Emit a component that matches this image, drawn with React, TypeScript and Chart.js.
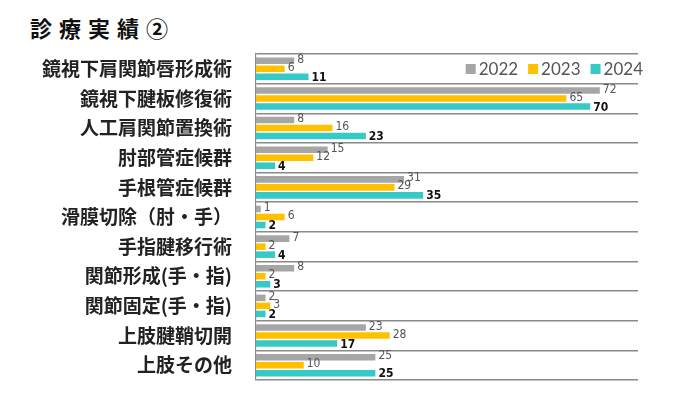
import React, { useEffect, useRef } from "react";
import { Chart, registerables } from "chart.js";

Chart.register(...registerables);

const categories = [
  "鏡視下肩関節唇形成術",
  "鏡視下腱板修復術",
  "人工肩関節置換術",
  "肘部管症候群",
  "手根管症候群",
  "滑膜切除（肘・手）",
  "手指腱移行術",
  "関節形成(手・指)",
  "関節固定(手・指)",
  "上肢腱鞘切開",
  "上肢その他",
];
const years = ["2022", "2023", "2024"];
const values2022 = [8, 72, 8, 15, 31, 1, 7, 8, 2, 23, 25];
const values2023 = [6, 65, 16, 12, 29, 6, 2, 2, 3, 28, 10];
const values2024 = [11, 70, 23, 4, 35, 2, 4, 3, 2, 17, 25];
const colors = ["#a6a6a6", "#ffc000", "#36c9c6"];
const xMax = 80;

const NUM_FONT = '"DejaVu Sans", sans-serif';

const valueLabelPlugin = {
  id: "valueLabels",
  afterDatasetsDraw(chart: any) {
    const ctx = chart.ctx;
    ctx.save();
    try {
      ctx.fontStretch = "condensed";
    } catch (e) {}
    chart.data.datasets.forEach((ds: any, di: number) => {
      const meta = chart.getDatasetMeta(di);
      meta.data.forEach((bar: any, i: number) => {
        const v = ds.data[i];
        const bold = di === 2;
        ctx.font = `${bold ? "bold " : ""}12px ${NUM_FONT}`;
        try {
          ctx.fontStretch = "condensed";
        } catch (e) {}
        ctx.fillStyle = bold ? "#111" : "#555";
        ctx.textAlign = "left";
        ctx.textBaseline = "middle";
        ctx.fillText(String(v), bar.x + 3, bar.y + (bold ? 1 : -1));
      });
    });
    ctx.restore();
  },
};

const legendPlugin = {
  id: "customLegend",
  afterDraw(chart: any) {
    const ctx = chart.ctx;
    ctx.save();
    ctx.font = '17px Lato, "Noto Sans", sans-serif';
    ctx.textBaseline = "middle";
    const box = 10;
    const gapBoxText = 3;
    const gapItems = 10;
    const widths = years.map((y) => ctx.measureText(y).width);
    let total = 0;
    widths.forEach((w, i) => {
      total += box + gapBoxText + w + (i < widths.length - 1 ? gapItems : 0);
    });
    let x = chart.chartArea.right + 5 - total;
    const yc = chart.chartArea.top + 15;
    years.forEach((y, i) => {
      ctx.fillStyle = colors[i];
      ctx.fillRect(x, yc - box / 2, box, box);
      x += box + gapBoxText;
      ctx.fillStyle = "#555";
      ctx.textAlign = "left";
      ctx.fillText(y, x, yc + 1);
      x += widths[i] + gapItems;
    });
    ctx.restore();
  },
};

export default function App() {
  const ref = useRef<HTMLCanvasElement | null>(null);
  useEffect(() => {
    if (!ref.current) return;
    const chart = new Chart(ref.current, {
      type: "bar",
      data: {
        labels: categories,
        datasets: [values2022, values2023, values2024].map((d, i) => ({
          label: years[i],
          data: d,
          backgroundColor: colors[i],
          borderWidth: 0,
          categoryPercentage: 0.81,
          barPercentage: 0.82,
        })),
      },
      options: {
        indexAxis: "y",
        animation: false,
        responsive: false,
        maintainAspectRatio: false,
        devicePixelRatio: 1,
        layout: { padding: { left: 0, right: 62, top: 54, bottom: 13 } },
        plugins: {
          legend: { display: false },
          tooltip: { enabled: false },
          title: { display: false },
        },
        scales: {
          x: {
            display: false,
            min: 0,
            max: xMax,
          },
          y: {
            afterFit: (scale: any) => {
              scale.width = 256;
              scale.paddingTop = 0;
              scale.paddingBottom = 0;
            },
            grid: {
              color: "#8a8a8a",
              lineWidth: 1.5,
              drawTicks: false,
              offset: true,
            },
            border: { color: "#8a8a8a", width: 1.2 },
            ticks: {
              padding: 24,
              color: "#222",
              font: { family: '"Noto Sans CJK JP", sans-serif', size: 19, weight: "bold" },
            },
          },
        },
      },
      plugins: [valueLabelPlugin, legendPlugin],
    });
    return () => chart.destroy();
  }, []);

  return (
    <div style={{ position: "fixed", left: 0, top: 0, width: 700, height: 393, background: "#fff" }}>
      <div
        style={{
          position: "absolute",
          left: 30,
          top: 13,
          fontFamily: '"Noto Sans CJK JP", sans-serif',
          fontWeight: "bold",
          fontSize: 22,
          lineHeight: "28px",
          letterSpacing: 7,
          color: "#111",
          whiteSpace: "nowrap",
        }}
      >
        診療実績②
      </div>
      <canvas
        ref={ref}
        width={700}
        height={393}
        style={{ position: "absolute", left: 0, top: 0, width: 700, height: 393 }}
      />
    </div>
  );
}
